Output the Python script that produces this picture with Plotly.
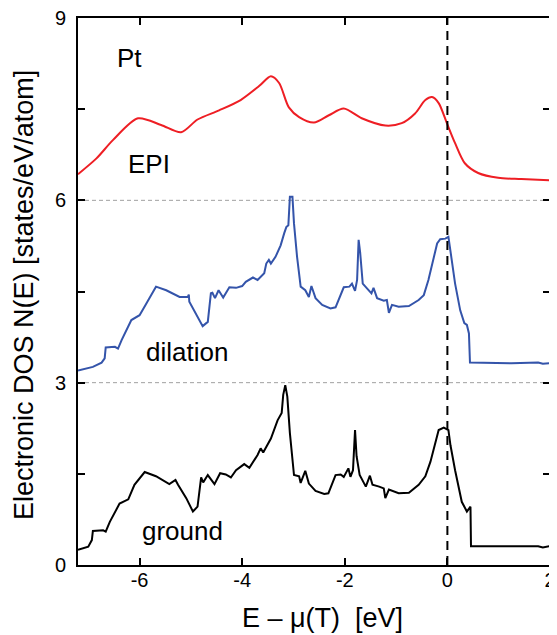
import plotly.graph_objects as go

# ---- data ----
epi_E = [-7.2, -6.84, -6.52, -6.03, -5.58, -5.19, -4.87, -4.45, -4.03, -3.67, -3.44, -3.28,
         -3.09, -2.89, -2.60, -2.31, -2.02, -1.67, -1.21, -0.89, -0.63, -0.43, -0.30, -0.17,
         -0.01, 0.15, 0.34, 0.60, 0.99, 1.44, 2.0]
epi_N = [6.43, 6.69, 6.99, 7.35, 7.24, 7.12, 7.33, 7.48, 7.65, 7.88, 8.04, 7.93,
         7.53, 7.37, 7.28, 7.40, 7.51, 7.35, 7.23, 7.27, 7.43, 7.65, 7.70, 7.60,
         7.27, 6.94, 6.61, 6.45, 6.37, 6.35, 6.33]

dil_E = [-7.2, -6.91, -6.74, -6.68, -6.66, -6.48, -6.42, -6.35, -6.16, -6.00, -5.87, -5.68,
         -5.48, -5.22, -5.06, -5.04, -5.03, -4.90, -4.77, -4.67, -4.61, -4.58, -4.53, -4.46,
         -4.37, -4.25, -4.12, -4.00, -3.93, -3.79, -3.70, -3.57, -3.53, -3.48, -3.44, -3.35,
         -3.25, -3.18, -3.14, -3.10, -3.07, -3.02, -2.99, -2.93, -2.86, -2.77, -2.70, -2.65,
         -2.57, -2.44, -2.28, -2.18, -2.08, -2.02, -1.91, -1.86, -1.80, -1.76, -1.73, -1.70,
         -1.65, -1.57, -1.48, -1.44, -1.37, -1.24, -1.18, -1.14, -1.08, -0.95, -0.75, -0.56,
         -0.46, -0.37, -0.27, -0.20, -0.14, -0.04, 0.02, 0.07, 0.15, 0.25, 0.33, 0.38,
         0.42, 0.44, 1.25, 1.77, 1.86, 2.0]
dil_N = [3.20, 3.26, 3.33, 3.40, 3.58, 3.59, 3.56, 3.70, 4.03, 4.11, 4.30, 4.58,
         4.52, 4.41, 4.41, 4.45, 4.33, 4.14, 3.93, 4.00, 4.47, 4.48, 4.39, 4.52,
         4.40, 4.57, 4.56, 4.59, 4.66, 4.73, 4.69, 4.80, 4.96, 5.02, 4.96, 5.07,
         5.26, 5.46, 5.56, 5.59, 6.06, 6.06, 5.62, 5.07, 4.58, 4.52, 4.41, 4.59,
         4.39, 4.28, 4.22, 4.24, 4.44, 4.57, 4.58, 4.63, 4.51, 4.69, 5.35, 5.14,
         4.63, 4.56, 4.47, 4.56, 4.39, 4.35, 4.36, 4.15, 4.28, 4.25, 4.26, 4.36,
         4.44, 4.69, 5.02, 5.29, 5.36, 5.37, 5.40, 5.13, 4.63, 4.19, 3.98, 3.95,
         3.81, 3.33, 3.32, 3.33, 3.31, 3.32]

gnd_E = [-7.2, -7.0, -6.93, -6.91, -6.71, -6.66, -6.58, -6.39, -6.22, -6.10, -5.90, -5.68,
         -5.42, -5.30, -5.25, -5.09, -4.96, -4.87, -4.80, -4.76, -4.67, -4.54, -4.43, -4.32,
         -4.22, -4.12, -3.96, -3.86, -3.70, -3.64, -3.59, -3.44, -3.31, -3.23, -3.20, -3.16,
         -3.12, -3.07, -2.99, -2.89, -2.86, -2.77, -2.70, -2.57, -2.40, -2.32, -2.18, -2.08,
         -2.02, -1.93, -1.89, -1.84, -1.80, -1.77, -1.71, -1.59, -1.51, -1.46, -1.33, -1.24,
         -1.21, -1.14, -0.95, -0.75, -0.56, -0.43, -0.33, -0.23, -0.17, -0.07, 0.02, 0.06,
         0.15, 0.28, 0.38, 0.45, 0.46, 1.25, 1.77, 1.86, 2.0]
gnd_N = [0.25, 0.30, 0.41, 0.56, 0.57, 0.55, 0.71, 1.01, 1.08, 1.32, 1.53, 1.46,
         1.33, 1.40, 1.32, 1.10, 0.88, 0.96, 1.44, 1.36, 1.48, 1.33, 1.51, 1.49,
         1.44, 1.56, 1.66, 1.60, 1.81, 1.92, 1.85, 2.08, 2.38, 2.50, 2.80, 2.96,
         2.77, 2.17, 1.48, 1.46, 1.35, 1.55, 1.34, 1.22, 1.17, 1.18, 1.48, 1.49,
         1.45, 1.59, 1.45, 1.56, 2.22, 1.79, 1.48, 1.29, 1.47, 1.32, 1.29, 1.26,
         1.10, 1.24, 1.18, 1.19, 1.32, 1.46, 1.70, 2.03, 2.22, 2.26, 2.22, 1.97,
         1.56, 1.04, 0.88, 0.96, 0.31, 0.31, 0.31, 0.29, 0.31]

x_ticks = [-6, -4, -2, 0, 2]
y_ticks = [0, 1.5, 3, 4.5, 6, 7.5, 9]
y_ticktext = ["0", "", "3", "", "6", "", "9"]
ref_levels = [3, 6]

labels = [("Pt", -6.19, 8.34), ("EPI", -5.81, 6.60), ("dilation", -5.07, 3.50), ("ground", -5.17, 0.56)]

FONT = "Liberation Sans, Arial, sans-serif"

fig = go.Figure()
fig.add_trace(go.Scatter(x=epi_E, y=epi_N, mode="lines",
                         line=dict(color="rgb(238,30,36)", width=2, shape="spline", smoothing=0.8)))
fig.add_trace(go.Scatter(x=dil_E, y=dil_N, mode="lines",
                         line=dict(color="rgb(52,84,170)", width=2)))
fig.add_trace(go.Scatter(x=gnd_E, y=gnd_N, mode="lines",
                         line=dict(color="black", width=2)))

shapes = []
for lv in ref_levels:
    shapes.append(dict(type="line", xref="paper", x0=0, x1=1, yref="y", y0=lv, y1=lv,
                       line=dict(color="rgb(160,160,160)", width=1, dash="4px,3px"), layer="below"))
shapes.append(dict(type="line", xref="x", x0=0, x1=0, yref="paper", y0=0, y1=1,
                   line=dict(color="black", width=2, dash="9px,6px")))

annotations = []
for txt, xx, yy in labels:
    annotations.append(dict(text=txt, x=xx, y=yy, xref="x", yref="y", showarrow=False,
                            xanchor="center", yanchor="middle", font=dict(size=26, color="black", family=FONT)))
annotations.append(dict(text="Electronic DOS N(E) [states/eV/atom]", xref="paper", yref="paper",
                        x=-0.114, y=0.494, textangle=-90, showarrow=False, xanchor="center", yanchor="middle",
                        font=dict(size=27, color="black", family=FONT)))
annotations.append(dict(text="E \u2013 \u03bc(T)  [eV]", xref="paper", yref="paper",
                        x=0.519, y=-0.097, showarrow=False, xanchor="center", yanchor="middle",
                        font=dict(size=27, color="black", family=FONT)))

# page body has an 8px margin, so the figure is sized to fill the window after it
fig.update_layout(
    width=549, height=627,
    margin=dict(l=70, r=7, t=10, b=70, autoexpand=False),
    paper_bgcolor="white", plot_bgcolor="white",
    showlegend=False,
    shapes=shapes, annotations=annotations,
    font=dict(family=FONT, color="black"),
    xaxis=dict(range=[-7.2, 2.0], tickvals=x_ticks, ticktext=[str(v) for v in x_ticks],
               ticks="inside", ticklen=7, tickwidth=1.5, tickcolor="black",
               showline=True, linecolor="black", linewidth=2, mirror="ticks",
               showgrid=False, zeroline=False, tickfont=dict(size=20, family=FONT, color="black"),
               ticklabelstandoff=-4, ticklabeloverflow="allow", automargin=False),
    yaxis=dict(range=[0, 9], tickvals=y_ticks, ticktext=y_ticktext,
               ticks="inside", ticklen=7, tickwidth=1.5, tickcolor="black",
               showline=True, linecolor="black", linewidth=2, mirror="ticks",
               showgrid=False, zeroline=False, tickfont=dict(size=20, family=FONT, color="black"),
               ticklabelstandoff=6, ticklabeloverflow="allow", automargin=False),
)

fig.write_html("out.html")
